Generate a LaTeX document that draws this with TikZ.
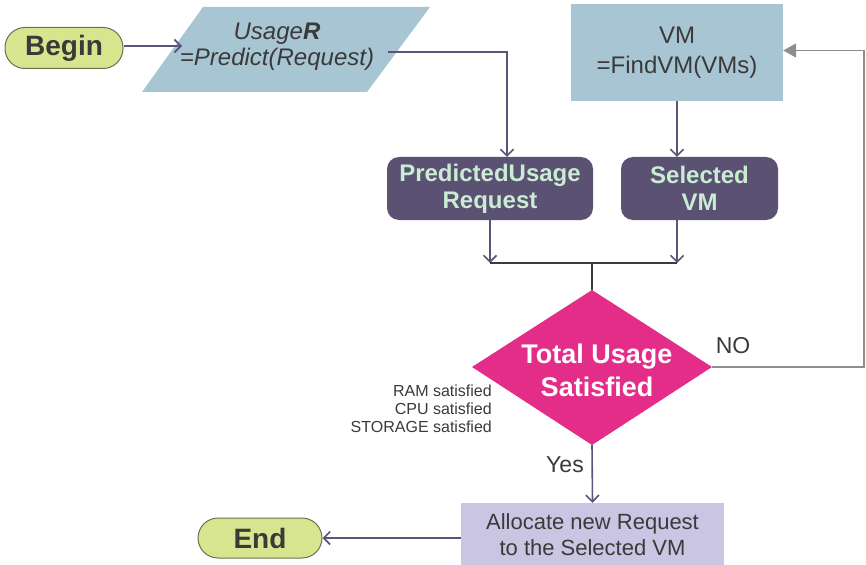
\documentclass[tikz,border=0pt]{standalone}
\usepackage{fontspec}
\setmainfont{Liberation Sans}
\usetikzlibrary{arrows.meta}

\definecolor{termfill}{HTML}{D7E68E}
\definecolor{termline}{HTML}{6E6E50}
\definecolor{bluebox}{HTML}{A8C5D3}
\definecolor{darkbox}{HTML}{5B5273}
\definecolor{mint}{HTML}{C9ECD3}
\definecolor{decfill}{HTML}{E32D89}
\definecolor{allocfill}{HTML}{C9C5E2}
\definecolor{txt}{HTML}{3A3A3A}
\definecolor{flowline}{HTML}{5A5478}
\definecolor{backline}{HTML}{8E8E8E}
\definecolor{joinline}{HTML}{3C3C3C}

\newcommand{\fs}[2]{\fontsize{#1}{#2}\selectfont}

\begin{document}
\begin{tikzpicture}[x=1pt,y=-1pt,
  every node/.style={inner sep=0pt, align=center, text=txt},
  term/.style={rounded corners=20pt, draw=termline, line width=1pt, fill=termfill,
    minimum width=118pt, minimum height=40pt, font=\fs{28}{30}\bfseries},
  calcbox/.style={fill=bluebox, font=\fs{24}{30}},
  databox/.style={fill=darkbox, rounded corners=12pt, minimum height=63pt,
    text=mint, font=\fs{24}{27}\bfseries},
  actbox/.style={fill=allocfill, font=\fs{22}{26}},
  flow/.style={draw=flowline, line width=1.6pt,
    -{Straight Barb[length=6.5pt,width=13pt,line width=1.6pt]}},
  back/.style={draw=backline, line width=1.6pt,
    -{Triangle[length=13pt,width=14pt]}},
  joint/.style={draw=joinline, line width=1.6pt},
  lbl/.style={font=\fs{23}{26}},
  note/.style={font=\fs{16}{18}, align=right}
]
\useasboundingbox (0,0) rectangle (866,564);

% start and end terminals
\node[term, minimum height=41pt] (begin) at (64,48) {Begin};
\node[term, minimum width=124pt] (end) at (260,538) {End};

% prediction step (parallelogram)
\path[fill=bluebox] (203,7) -- (430,7) -- (367,92) -- (142,92) -- cycle;
\node[font=\fs{24}{26}\itshape] (usage) at (277,47) {Usage\textbf{R}\\=Predict(Request)};
\coordinate (usageIn) at (182,46);
\coordinate (usageOut) at (388,52);

% VM lookup
\node[calcbox, minimum width=212pt, minimum height=97pt] (vm) at (677,52.5) {VM\\=FindVM(VMs)};

% data boxes
\node[databox, minimum width=206pt] (pred) at (490,188.5) {PredictedUsage\\Request};
\node[databox, minimum width=157pt] (sel) at (699.5,188.5) {Selected\\VM};

% decision diamond
\coordinate (dTop) at (592,290);
\coordinate (dRight) at (712,367);
\coordinate (dBottom) at (592,445);
\coordinate (dLeft) at (472,367);
\path[fill=decfill] (dTop) -- (dRight) -- (dBottom) -- (dLeft) -- cycle;
\node[text=white, font=\fs{27}{33}\bfseries] (dec) at (597,370) {Total Usage\\Satisfied};

\node[note, anchor=north east] (cond) at (492,385) {RAM satisfied\\CPU satisfied\\STORAGE satisfied};

% allocation step
\node[actbox, minimum width=263pt, minimum height=63pt] (alloc) at (592.5,534.5)
  {Allocate new Request\\to the Selected VM};

% labels
\node[lbl] (no) at (733,346) {NO};
\node[lbl] (yes) at (565,465) {Yes};

% connectors
\draw[flow] (begin.east |- usageIn) -- (usageIn);
\draw[flow] (usageOut) -| ([xshift=17pt]pred.north);
\draw[flow] (vm.south) -- (vm.south |- sel.north);

\coordinate (joinL) at (490,263);
\coordinate (joinR) at (677,263);
\coordinate (joinM) at (592,263);
\draw[flow] (pred.south) -- (joinL);
\draw[flow] (sel.south -| vm.south) -- (joinR);
\draw[joint] (joinL) -- (joinR);
\draw[joint] (joinM) -- (dTop);

\coordinate (loopC) at (864,367);
\draw[back] (dRight) -- (loopC) |- ([yshift=2pt]vm.east);

\draw[flow] (dBottom) -- (alloc.north);
\draw[flow] (end.east -| alloc.west) -- (end.east);
\end{tikzpicture}
\end{document}
